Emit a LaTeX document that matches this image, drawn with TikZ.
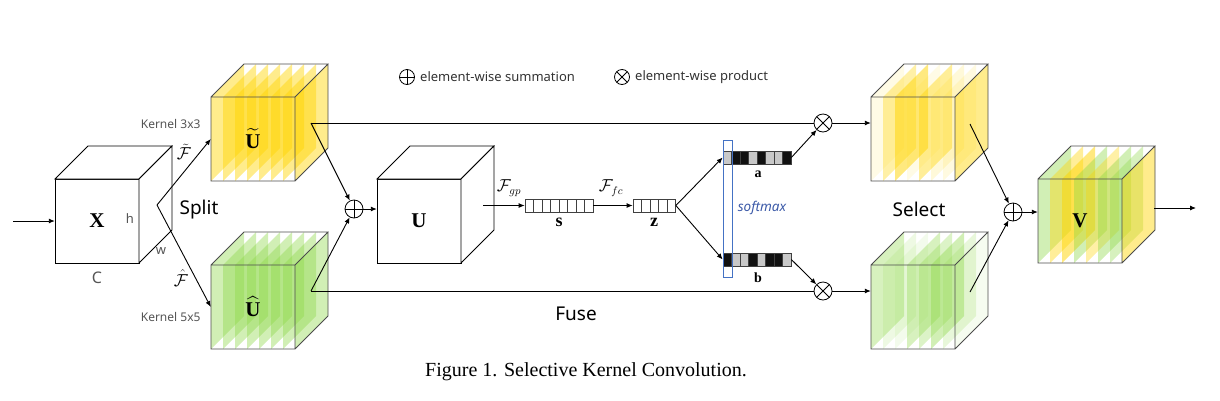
\documentclass[tikz,border=0pt]{standalone}
\usepackage{amsmath}
\usepackage{fontspec}
\setmainfont{Liberation Serif}
\newfontfamily\labfont{Noto Sans}
\usetikzlibrary{arrows.meta}
\definecolor{gold}{RGB}{255,212,0}
\definecolor{lgreen}{RGB}{140,215,70}
\definecolor{smblue}{RGB}{68,114,196}
\definecolor{smtext}{RGB}{60,90,168}
\definecolor{cellgray}{RGB}{200,200,200}
\definecolor{cellblack}{RGB}{17,17,17}
\definecolor{labgray}{RGB}{85,85,85}

\newcommand\skcube[3]{%
  \foreach \cc/\oo [count=\ii from 0] in {#3}{%
    \fill[\cc, fill opacity=\oo] ({#1+12*\ii},#2) -- ++(0,-84) -- ++(33,-33) -- ++(0,84) -- cycle;}
  \draw[cubeline] (#1,#2) -- ++(0,-84) -- ++(84,0) -- ++(0,84) -- cycle
    ({#1},{#2-84}) -- ++(33,-33) -- ++(84,0) -- ++(-33,33)
    ({#1+84},{#2}) -- ++(33,-33) -- ++(0,-84);
}
\newcommand\whitecube[2]{%
  \filldraw[plaincube] (#1,#2) rectangle ++(84,-84);
  \filldraw[plaincube] ({#1},{#2-84}) -- ++(33,-33) -- ++(84,0) -- ++(-33,33) -- cycle;
  \filldraw[plaincube] ({#1+84},{#2}) -- ++(33,-33) -- ++(0,-84) -- ++(-33,33) -- cycle;
}
\newcommand\cellrow[4]{% x0, ytop, width, list of colors
  \foreach \cf [count=\ii from 0] in {#4}{%
    \filldraw[cellline, fill=\cf] ({#1+#3*\ii},#2) rectangle ++(#3,13);}
}

\begin{document}
\begin{tikzpicture}[x=1pt,y=-1pt,
  cubeline/.style={draw=black!70, line width=0.8pt},
  plaincube/.style={fill=white, draw=black, line width=0.8pt},
  cellline/.style={draw=black!75, line width=0.7pt},
  facebox/.style={minimum size=84pt, inner sep=0pt, font=\fontsize{21}{21}\selectfont},
  vecbox/.style={draw=black!75, line width=0.7pt, minimum height=13pt, inner sep=0pt},
  conn/.style={line width=0.9pt, -{Latex[length=6pt,width=5pt]}},
  plainline/.style={line width=0.9pt},
  oplus/.style={circle, draw, line width=0.8pt, minimum size=18pt, inner sep=0pt,
    path picture={\draw[line width=0.8pt] (path picture bounding box.north) -- (path picture bounding box.south)
      (path picture bounding box.west) -- (path picture bounding box.east);}},
  otimes/.style={circle, draw, line width=0.8pt, minimum size=18pt, inner sep=0pt,
    path picture={\draw[line width=0.8pt] (path picture bounding box.north west) -- (path picture bounding box.south east)
      (path picture bounding box.north east) -- (path picture bounding box.south west);}},
  biglab/.style={font=\labfont\fontsize{19}{20}\selectfont},
  smalllab/.style={font=\labfont\fontsize{12}{13}\selectfont, text=labgray},
  legendlab/.style={font=\labfont\fontsize{13}{14}\selectfont, text=black!80, anchor=west, inner sep=0pt},
  mathlab/.style={font=\fontsize{16}{17}\selectfont, inner sep=0pt},
  veclab/.style={font=\fontsize{18}{18}\selectfont, inner sep=0pt},
  ablab/.style={font=\fontsize{14}{14}\selectfont, inner sep=0pt}
]
\useasboundingbox (0,0) rectangle (1220,400);

% cubes
\whitecube{55}{263}
\skcube{211}{181}{gold/0.45,gold/0.45,gold/0.45,gold/0.45,gold/0.45,gold/0.45,gold/0.45,gold/0.45}
\skcube{211}{349}{lgreen/0.4,lgreen/0.4,lgreen/0.4,lgreen/0.4,lgreen/0.4,lgreen/0.4,lgreen/0.4,lgreen/0.4}
\whitecube{377}{263}
\skcube{871}{181}{gold/0.1,gold/0.35,gold/0.5,gold/0.1,gold/0.4,gold/0.15,gold/0.12,gold/0.45}
\skcube{871}{349}{lgreen/0.35,lgreen/0.15,lgreen/0.1,lgreen/0.35,lgreen/0.3,lgreen/0.4,lgreen/0.2,lgreen/0.08}
\skcube{1038}{263}{lgreen/0.4,gold/0.4,gold/0.5,lgreen/0.4,gold/0.35,lgreen/0.4,lgreen/0.35,gold/0.45}

% cube faces as nodes
\node[facebox] (X) at (97,221) {$\mathbf{X}$};
\node[facebox] (Ut) at (253,139) {$\widetilde{\mathbf{U}}$};
\node[facebox] (Uh) at (253,307) {$\widehat{\mathbf{U}}$};
\node[facebox] (U) at (419,221) {$\mathbf{U}$};
\node[facebox] (SY) at (913,139) {};
\node[facebox] (SG) at (913,307) {};
\node[facebox] (V) at (1080,221) {$\mathbf{V}$};

% labels on X
\node[smalllab, font=\labfont\fontsize{13}{13}\selectfont] (hl) at (130,219) {h};
\node[smalllab, font=\labfont\fontsize{13}{13}\selectfont] (wl) at (161,251) {w};
\node[smalllab, font=\labfont\fontsize{16}{16}\selectfont] (cl) at (97,278) {C};
\node[smalllab, anchor=east] (k3) at (204,124) {Kernel 3x3};
\node[smalllab, anchor=east] (k5) at (204,317) {Kernel 5x5};
\node[mathlab] (ft) at (184,152) {$\tilde{\mathcal{F}}$};
\node[mathlab] (fh) at (181,278) {$\hat{\mathcal{F}}$};
\node[biglab] (split) at (199,210) {Split};
\node[biglab] (fuse) at (576,314) {Fuse};
\node[biglab] (select) at (919,209) {Select};

% input and split
\coordinate (in) at (13,221);
\draw[conn] (in) -- (X.west);
\coordinate (sp) at (157,205);
\draw[conn] (sp) -- (Ut.west);
\draw[conn] (sp) -- (Uh.west);

% fuse
\coordinate (uts) at (311,123);
\coordinate (uhs) at (311,291);
\node[oplus] (p1) at (354,209) {};
\draw[conn] (uts) -- (p1);
\draw[conn] (uhs) -- (p1);
\draw[conn] (p1) -- (p1 -| U.west);

% vectors
\cellrow{525}{199}{8.5}{white,white,white,white,white,white,white,white}
\node[vecbox, minimum width=68pt] (s) at (559,205.5) {};
\node[veclab] (sl) at (559,222) {$\mathbf{s}$};
\cellrow{633}{199}{8.5}{white,white,white,white,white}
\node[vecbox, minimum width=42.5pt] (z) at (654.25,205.5) {};
\node[veclab] (zl) at (654,222) {$\mathbf{z}$};
\coordinate (us) at (483,205.5);
\draw[conn] (us) -- (s.west);
\node[mathlab] (fgp) at (509,188) {$\mathcal{F}_{gp}$};
\draw[conn] (s.east) -- (z.west);
\node[mathlab] (ffc) at (611,188) {$\mathcal{F}_{fc}$};

\cellrow{723}{151}{8.5}{cellgray,cellblack,cellblack,cellgray,cellblack,cellgray,cellgray,cellblack}
\node[vecbox, minimum width=68pt] (a) at (757,157.5) {};
\cellrow{723}{253}{8.5}{cellblack,cellgray,cellgray,cellblack,cellgray,cellblack,cellblack,cellgray}
\node[vecbox, minimum width=68pt] (b) at (757,259.5) {};
\node[ablab] (al) at (758,174) {$\mathbf{a}$};
\node[ablab] (bl) at (758,278) {$\mathbf{b}$};
\draw[conn] (z.east) -- (a.west);
\draw[conn] (z.east) -- (b.west);
\node[draw=smblue, line width=0.9pt, minimum width=9pt, minimum height=137pt, inner sep=0pt] (sm) at (727.5,208.5) {};
\node[font=\labfont\itshape\fontsize{13.5}{14}\selectfont, text=smtext] (smt) at (762,208) {softmax};

% select
\node[otimes] (m1) at (823,123) {};
\node[otimes] (m2) at (823,291) {};
\draw[plainline] (uts) -- (m1);
\draw[plainline] (uhs) -- (m2);
\draw[conn] (a.east) -- (m1);
\draw[conn] (b.east) -- (m2);
\draw[conn] (m1) -- (m1 -| SY.west);
\draw[conn] (m2) -- (m2 -| SG.west);
\coordinate (sys) at (970,124);
\coordinate (sgs) at (970,292);
\node[oplus] (p2) at (1013,212) {};
\draw[conn] (sys) -- (p2);
\draw[conn] (sgs) -- (p2);
\draw[conn] (p2) -- (p2 -| V.west);
\coordinate (vs) at (1154,208);
\coordinate (out) at (1196,208);
\draw[conn] (vs) -- (out);

% legend
\node[oplus, minimum size=15pt] (lg1) at (407,77) {};
\node[legendlab] (lt1) at (420,77) {element-wise summation};
\node[otimes, minimum size=15pt] (lg2) at (622,77) {};
\node[legendlab] (lt2) at (635,77) {element-wise product};

% caption
\node[font=\fontsize{20}{21}\selectfont] (cap) at (586,372) {Figure 1. Selective Kernel Convolution.};
\end{tikzpicture}
\end{document}
